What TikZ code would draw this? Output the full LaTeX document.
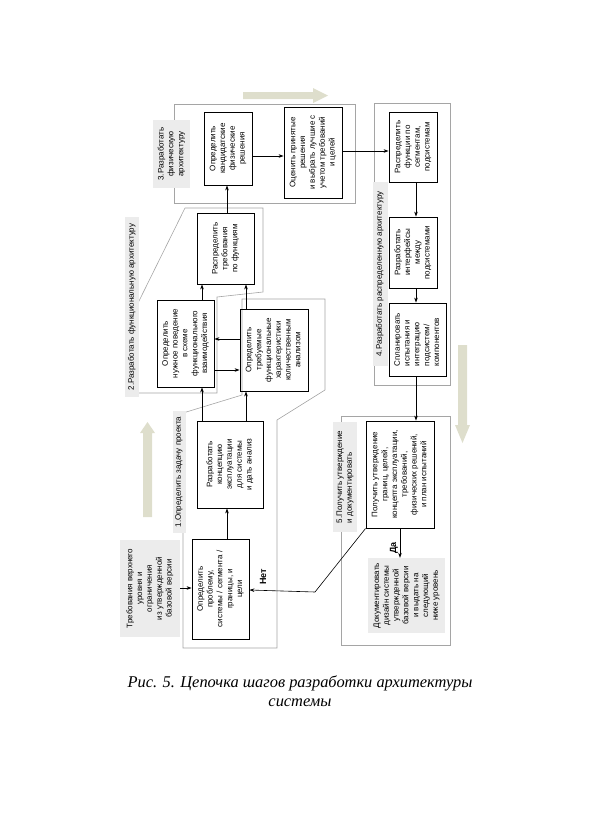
\documentclass[tikz,border=0pt]{standalone}
\usepackage{fontspec}
\setmainfont{Liberation Sans}
\newfontfamily\capfont{Liberation Serif}
\usepackage{graphicx}
\usetikzlibrary{arrows.meta}
\definecolor{boxgray}{RGB}{236,236,236}
\definecolor{linegray}{RGB}{165,165,165}
\definecolor{bigarrow}{RGB}{222,222,204}
\newcommand{\vt}[2][c]{\rotatebox{90}{\begin{tabular}{@{}#1@{}}#2\end{tabular}}}

\begin{document}
\begin{tikzpicture}[x=1pt,y=-1pt,>={Stealth[length=5pt,width=3.6pt]},
    wh/.style 2 args={minimum width=#1pt,minimum height=#2pt},
    box/.style={draw,line width=0.9pt,inner sep=0pt,font=\fontsize{8}{9.8}\selectfont},
    note/.style={fill=boxgray,inner sep=0pt,font=\fontsize{8}{9.8}\selectfont},
    group/.style={draw=linegray,line width=0.6pt},
    flow/.style={->,line width=0.6pt},
    answer/.style={font=\fontsize{9}{10}\selectfont\bfseries,rotate=90}]

    \useasboundingbox (0,0) rectangle (591,820);

    % big pale arrows
    \fill[bigarrow] (243,92) -- (313,92) -- (313,88) -- (328,95.5) -- (313,103) -- (313,99) -- (243,99) -- cycle;
    \fill[bigarrow] (143,517) -- (143,433) -- (140,433) -- (147.5,422) -- (155,433) -- (152,433) -- (152,517) -- cycle;
    \fill[bigarrow] (458,345) -- (458,425) -- (455,425) -- (462.5,443) -- (470,425) -- (467,425) -- (467,345) -- cycle;

    % group outlines
    \draw[group] (183,413) -- (242,395) -- (242,299) -- (325,299) -- (325,390) -- (277,420) -- (277,648) -- (183,648) -- cycle;
    \draw[group] (138,303) -- (185,208) -- (263,208) -- (263,292) -- (217,297) -- (217,393) -- (138,393) -- cycle;
    \draw[group] (174,104) rectangle (355,203);
    \draw[group] (374,103) rectangle (450,385);
    \draw[group] (341,416) rectangle (450,645);

    % group labels
    \node[note,wh={13}{122}] (g1) at (179,472) {\vt{1.Определить задачу проекта}};
    \node[note,wh={14}{180}] (g2) at (132,307) {\vt{2.Разработать функциональную архитектуру}};
    \node[note,wh={37}{68}] (g3) at (171.5,154) {\vt{3.Разработать\\ физическую\\ архитектуру}};
    \node[note,wh={15}{184}] (g4) at (380,274) {\vt{4.Разработать распределенную архитектуру}};
    \node[note,wh={24}{110}] (g5) at (345,477) {\vt[l]{5.Получить утверждение\\ и документировать}};

    % steps
    \node[note,wh={60}{97}] (req) at (150,588.5) {\vt{Требования верхнего\\ уровня и\\ ограничения\\ из утвержденной\\ базовой версии}};
    \node[box,wh={57}{100}] (prob) at (220.5,589) {\vt{Определить\\ проблему,\\ системы / сегмента /\\ границы, и\\ цели}};
    \node[box,wh={66}{87}] (concept) at (230,464.5) {\vt{Разработать\\ концепцию\\ эксплуатации\\ для системы\\ и дать анализ}};
    \node[box,wh={57}{87}] (behav) at (185.5,343.5) {\vt{Определить\\ нужное поведение\\ в схеме\\ функционального\\ взаимодействия}};
    \node[box,wh={68}{82}] (perf) at (274,350) {\vt{Определить\\ требуемые\\ функциональные\\ характеристики\\ количественным\\ анализом}};
    \node[box,wh={57}{71}] (alloc) at (225.5,248.5) {\vt{Распределить\\ требования\\ по функциям}};
    \node[box,wh={48}{73}] (cand) at (228,148.5) {\vt{Определить\\ кандидатские\\ физические\\ решения}};
    \node[box,wh={58}{91}] (eval) at (313,152.5) {\vt{Оценить принятые\\ решения\\ и выбрать лучшие с\\ учетом требований\\ и целей}};
    \node[box,wh={48}{70}] (seg) at (413,147) {\vt{Распределить\\ функции по\\ сегментам,\\ подсистемам}};
    \node[box,wh={48}{71}] (intf) at (413,252.5) {\vt{Разработать\\ интерфейсы\\ между\\ подсистемами}};
    \node[box,wh={57}{73}] (test) at (417.5,339.5) {\vt[l]{Спланировать\\ испытания и\\ интеграцию\\ подсистем/\\ компонентов}};
    \node[box,wh={68}{107}] (appr) at (400,474.5) {\vt{Получить утверждение\\ границ, целей,\\ концепта эксплуатации,\\ требований,\\ физических решений,\\ и план испытаний}};
    \node[note,wh={77}{75}] (doc) at (406.5,595.5) {\vt{Документировать\\ дизайн системы\\ утвержденной\\ базовой версии\\ и выдать на\\ следующий\\ ниже уровень}};

    % answers
    \node[answer] (yes) at (394,548) {Да};
    \node[answer] (no) at (263,577) {Нет};
    \coordinate (bend) at (315,592);

    % connectors
    \draw[flow] (req.east |- 0,588) -- (prob.west |- 0,588);
    \draw[flow] (prob.north -| 227,0) -- (concept.south -| 227,0);
    \draw[flow] (concept.north -| 202,0) -- (behav.south -| 202,0);
    \draw[flow] (concept.north -| 246,0) -- (perf.south -| 246,0);
    \draw[flow] (behav.north -| 202,0) -- (alloc.south -| 202,0);
    \draw[flow] (perf.north -| 246,0) -- (alloc.south -| 246,0);
    \draw[flow] (perf.west |- 0,339) -- (behav.east |- 0,339);
    \draw[flow] (behav.east |- 0,370) -- (perf.west |- 0,370);
    \draw[flow] (alloc.north -| 227,0) -- (cand.south -| 227,0);
    \draw[flow] (cand.east |- 0,156) -- (eval.west |- 0,156);
    \draw[flow] (eval.east |- 0,151) -- (seg.west |- 0,151);
    \draw[flow] (seg.south -| 416,0) -- (intf.north -| 416,0);
    \draw[flow] (intf.south -| 416,0) -- (test.north -| 416,0);
    \draw[flow] (test.south -| 416,0) -- (appr.north -| 416,0);
    \draw[flow] (appr.south -| 400,0) -- (doc.north -| 400,0);
    \draw[flow] (appr.south west) -- (bend) -- (prob.east |- 0,590);

    % caption
    \node[font=\capfont\itshape\fontsize{16.4}{19}\selectfont,align=center] (caption) at (300,691)
        {Рис. 5. Цепочка шагов разработки архитектуры\\ системы};
\end{tikzpicture}
\end{document}
